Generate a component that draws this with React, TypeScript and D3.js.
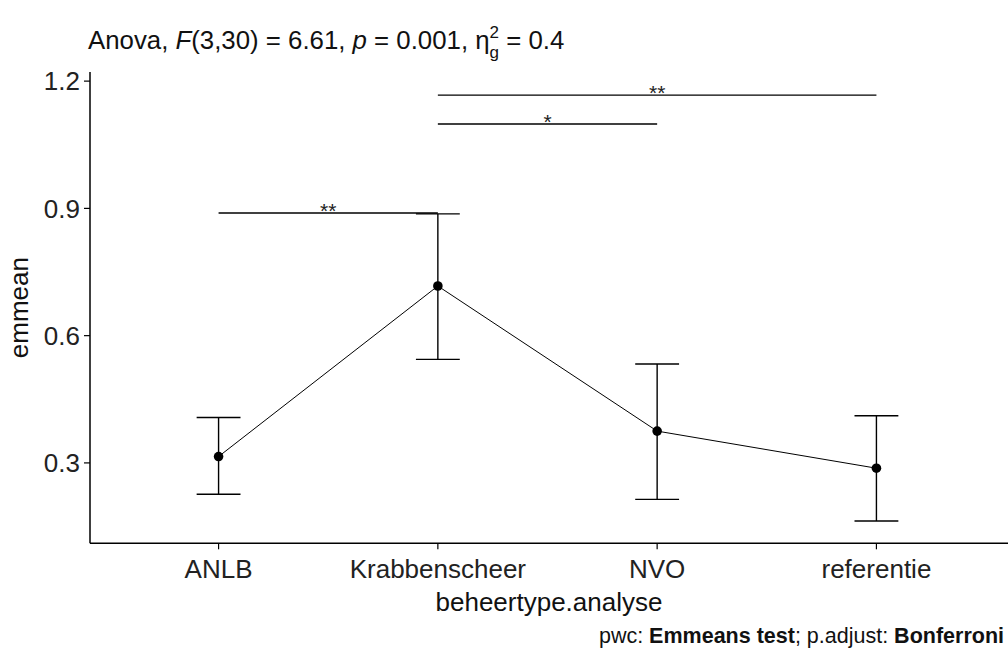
import React from "react";
import * as d3 from "d3";

const categories = ["ANLB", "Krabbenscheer", "NVO", "referentie"];
const means = [0.315, 0.717, 0.375, 0.2875];
const lower = [0.226, 0.544, 0.214, 0.163];
const upper = [0.407, 0.887, 0.533, 0.411];
const yTicks = [0.3, 0.6, 0.9, 1.2];
const compFrom = ["ANLB", "Krabbenscheer", "Krabbenscheer"];
const compTo = ["Krabbenscheer", "NVO", "referentie"];
const compY = [0.889, 1.099, 1.167];
const compLabel = ["**", "*", "**"];

const W = 1008;
const H = 653;
const FONT = "'Liberation Sans', Arial, sans-serif";

export default function App() {
  const left = 90;
  const right = 1008;
  const top = 72;
  const bottom = 543.3;

  const x = d3.scalePoint<string>().domain(categories).range([87, 1008]).padding(0.6);
  const y = d3.scaleLinear().domain([0.1105, 1.2215]).range([bottom, top]);
  const step = x.step();
  const capHalf = step * 0.1;

  const line = d3
    .line<number>()
    .x((_, i) => x(categories[i]) as number)
    .y((d) => y(d));

  return (
    <svg
      width={W}
      height={H}
      style={{ display: "block", background: "#fff", position: "fixed", left: 0, top: 0 }}
      fontFamily={FONT}
    >
      {/* Title */}
      <text x={88} y={49} fontSize={25.8} fill="#111">
        <tspan>Anova, </tspan>
        <tspan fontStyle="italic">F</tspan>
        <tspan>(3,30) = 6.61, </tspan>
        <tspan fontStyle="italic">p</tspan>
        <tspan> = 0.001, η</tspan>
        <tspan fontSize={17} dy={-11}>2</tspan>
        <tspan fontSize={17} dx={-9.5} dy={20}>g</tspan>
        <tspan dy={-9}> = 0.4</tspan>
      </text>

      {/* Axes */}
      <line x1={left} x2={left} y1={top} y2={bottom} stroke="#000" strokeWidth={1.5} />
      <line x1={left} x2={right} y1={bottom} y2={bottom} stroke="#000" strokeWidth={1.5} />

      {yTicks.map((t) => (
        <g key={t}>
          <line x1={left - 6} x2={left} y1={y(t)} y2={y(t)} stroke="#000" strokeWidth={1.2} />
          <text x={left - 10} y={y(t)} dy="0.36em" textAnchor="end" fontSize={26} fill="#222">
            {t.toFixed(1)}
          </text>
        </g>
      ))}

      {categories.map((c) => (
        <g key={c}>
          <line x1={x(c)} x2={x(c)} y1={bottom} y2={bottom + 6} stroke="#000" strokeWidth={1.2} />
          <text x={x(c)} y={578} textAnchor="middle" fontSize={26} fill="#222">
            {c}
          </text>
        </g>
      ))}

      <text x={(left + right) / 2} y={611} textAnchor="middle" fontSize={26} fill="#111">
        beheertype.analyse
      </text>
      <text
        transform={`translate(28, ${(top + bottom) / 2}) rotate(-90)`}
        textAnchor="middle"
        fontSize={26}
        fill="#111"
      >
        emmean
      </text>

      {/* Connecting line */}
      <path d={line(means) as string} fill="none" stroke="#000" strokeWidth={1} />

      {/* Error bars */}
      {categories.map((c, i) => {
        const cx = x(c) as number;
        return (
          <g key={c} stroke="#000" strokeWidth={1.4}>
            <line x1={cx} x2={cx} y1={y(lower[i])} y2={y(upper[i])} />
            <line x1={cx - capHalf} x2={cx + capHalf} y1={y(lower[i])} y2={y(lower[i])} />
            <line x1={cx - capHalf} x2={cx + capHalf} y1={y(upper[i])} y2={y(upper[i])} />
          </g>
        );
      })}

      {/* Points */}
      {categories.map((c, i) => (
        <circle key={c} cx={x(c)} cy={y(means[i])} r={4.8} fill="#000" />
      ))}

      {/* Significance brackets */}
      {compFrom.map((f, i) => {
        const x1 = x(f) as number;
        const x2 = x(compTo[i]) as number;
        const yy = y(compY[i]);
        return (
          <g key={i}>
            <line x1={x1} x2={x2} y1={yy} y2={yy} stroke="#000" strokeWidth={1.4} />
            <text x={(x1 + x2) / 2} y={yy + 5} textAnchor="middle" fontSize={21} fill="#222">
              {compLabel[i]}
            </text>
          </g>
        );
      })}

      {/* Caption */}
      <text x={1004} y={643} textAnchor="end" fontSize={21.5} fill="#111">
        <tspan>pwc: </tspan>
        <tspan fontWeight="bold">Emmeans test</tspan>
        <tspan>; p.adjust: </tspan>
        <tspan fontWeight="bold">Bonferroni</tspan>
      </text>
    </svg>
  );
}
